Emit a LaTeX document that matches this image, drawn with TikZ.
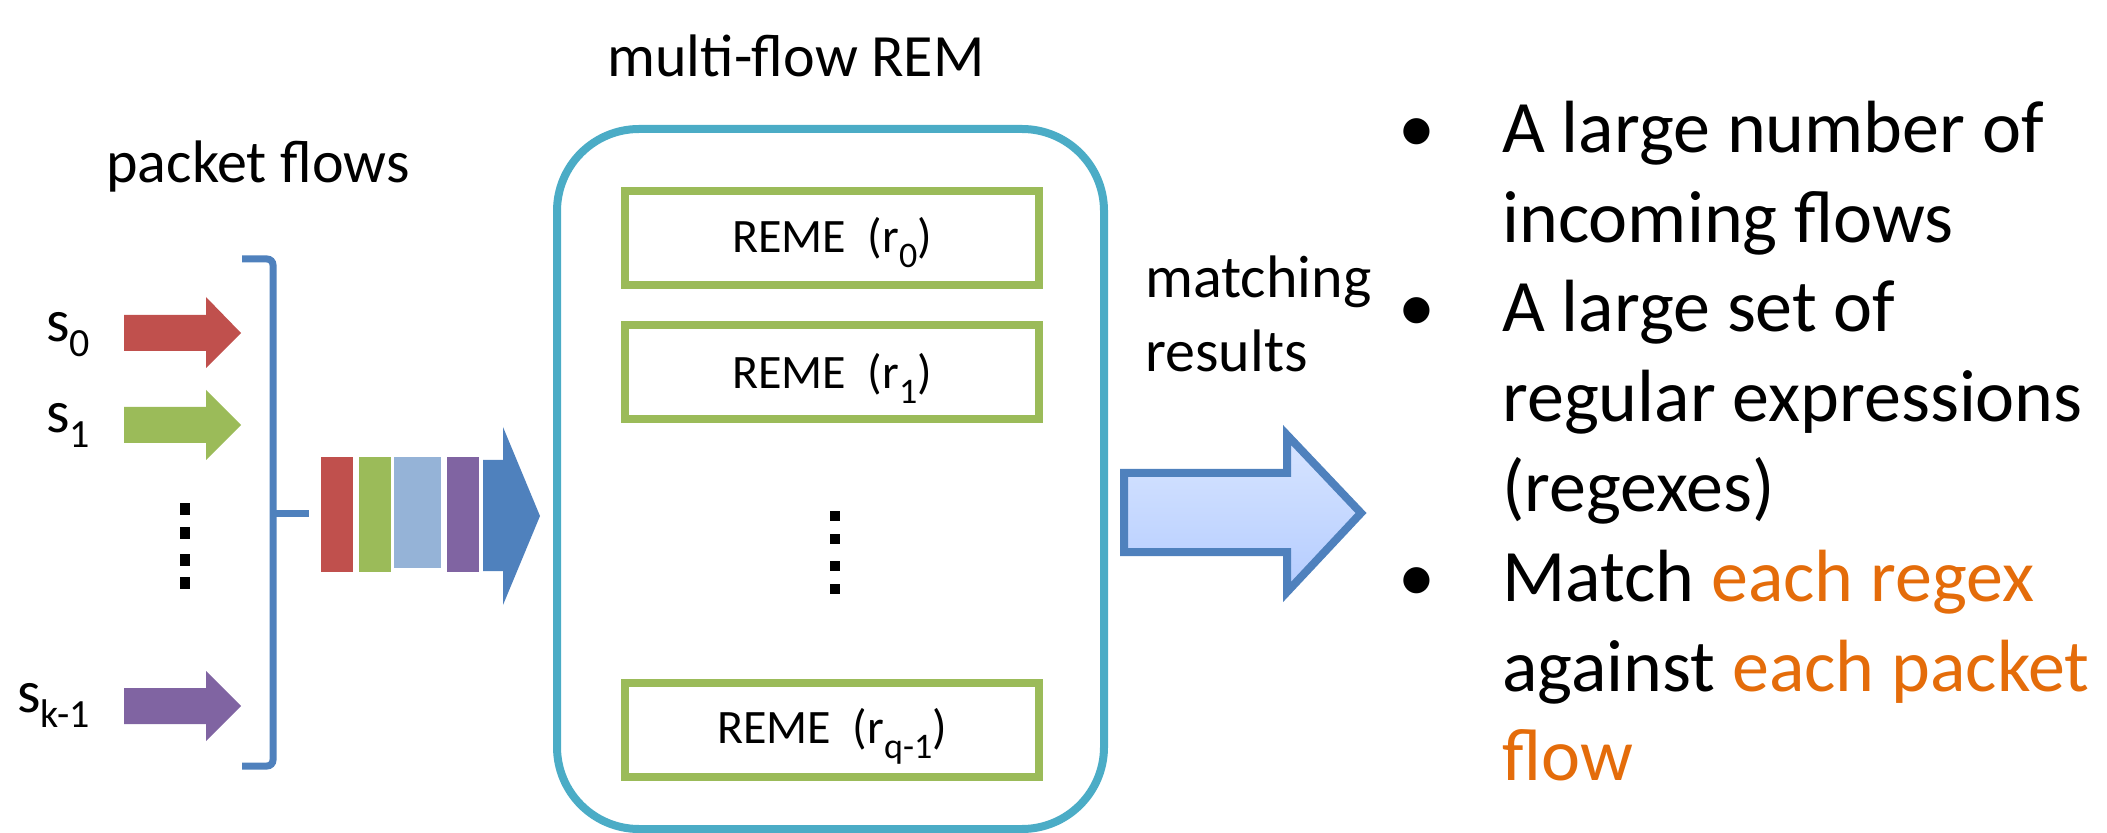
\documentclass[tikz,border=0pt]{standalone}
\usepackage{fontspec}
\setmainfont{Carlito}
\definecolor{fred}{HTML}{C0504D}
\definecolor{fgreen}{HTML}{9BBB59}
\definecolor{flblue}{HTML}{95B3D7}
\definecolor{fpurple}{HTML}{8064A2}
\definecolor{fblue}{HTML}{4F81BD}
\definecolor{faqua}{HTML}{4BACC6}
\definecolor{forange}{HTML}{E46C0A}
\definecolor{ftop}{HTML}{D8E5FF}
\definecolor{fbot}{HTML}{B4CCFF}
\newcommand{\lblfont}{\fontsize{30}{37}\selectfont}
\newcommand{\remefont}{\fontsize{24}{29}\selectfont}
\newcommand{\bulfont}{\fontsize{37}{44.85}\selectfont}
\newcommand{\ssub}[1]{\raisebox{-7.5pt}{\fontsize{20}{20}\selectfont #1}}
\newcommand{\rsub}[1]{\raisebox{-7.5pt}{\fontsize{18}{18}\selectfont #1}}
\begin{document}
\begin{tikzpicture}[x=0.5pt,y=-0.5pt,
  lbl/.style={font=\lblfont, inner sep=0pt, anchor=base west},
  remebox/.style={draw=fgreen, line width=4pt, minimum width=207pt, minimum height=47pt, inner sep=0pt},
  remetext/.style={font=\remefont, inner sep=0pt, anchor=base},
  bultext/.style={font=\bulfont, inner sep=0pt, anchor=base west, align=left},
  bulglyph/.style={font=\bulfont, inner sep=0pt, anchor=base},
  brace/.style={draw=fblue, line width=3.5pt},
  remframe/.style={draw=faqua, line width=4pt, rounded corners=41pt, minimum width=273.5pt, minimum height=350pt, inner sep=0pt},
  dotmark/.style={fill=black}
]
\useasboundingbox (0,0) rectangle (2107,833);

% labels
\node[lbl] (pf) at (106,183) {packet flows};
\node[lbl] (mf) at (607,77) {multi-flow REM};
\node[lbl] (s0) at (46,342) {s\ssub{0}};
\node[lbl] (s1) at (46,433) {s\ssub{1}};
\node[lbl] (sk) at (17,712) {s\ssub{k-1}};

% flow arrows
\fill[fred] (124,315) -- (206,315) -- (206,297) -- (241,333) -- (206,368) -- (206,351) -- (124,351) -- cycle;
\fill[fgreen] (124,407) -- (206,407) -- (206,390) -- (241,425) -- (206,460) -- (206,443) -- (124,443) -- cycle;
\fill[fpurple] (124,688) -- (206,688) -- (206,671) -- (241,706) -- (206,741) -- (206,724) -- (124,724) -- cycle;

% left dots
\foreach \yy in {509,533,560,583} \fill[dotmark] (180,\yy-6) rectangle (190,\yy+6);

% bracket
\draw[brace, rounded corners=3pt] (242,259) -- (273,259) -- (273,766) -- (242,766);
\draw[brace] (273,513) -- (309,513);

% packet blocks
\fill[fred] (321,457) rectangle (353,572);
\fill[fgreen] (359,457) rectangle (391,572);
\fill[flblue] (394,457) rectangle (441,568);
\fill[fpurple] (447,457) rectangle (479,572);
\fill[fblue] (483,460) -- (503,460) -- (503,427) -- (540,516) -- (503,605) -- (503,571) -- (483,571) -- cycle;

% REM frame
\node[remframe] (rem) at (830.5,479) {};
\node[remebox] (b0) at (832,238) {};
\node[remebox] (b1) at (832,372) {};
\node[remebox] (bq) at (832,729.5) {};
\node[remetext] (t0) at ([yshift=-7.5pt]b0.center) {REME\ \ (r\rsub{0})};
\node[remetext] (t1) at ([yshift=-8.5pt]b1.center) {REME\ \ (r\rsub{1})};
\node[remetext] (tq) at ([yshift=-7pt]bq.center) {REME\ \ (r\rsub{q-1})};
\foreach \yy in {516,539,566,589} \fill[dotmark] (830,\yy-5) rectangle (840,\yy+5);

% matching results
\node[lbl] (m1) at (1145,298) {matching};
\node[lbl] (m2) at (1145,372) {results};
\draw[draw=fblue, line width=4pt, top color=ftop, bottom color=fbot, miter limit=10]
  (1124,473) -- (1287,473) -- (1287,435) -- (1361,513) -- (1287,592) -- (1287,552) -- (1124,552) -- cycle;

% bullets (node base = baseline of last line)
\node[bulglyph] (g1) at (1417,153) {\textbullet};
\node[bulglyph] (g2) at (1417,332) {\textbullet};
\node[bulglyph] (g3) at (1417,601.5) {\textbullet};
\node[bultext] (i1) at (1502,242.7) {A large number of\\incoming flows};
\node[bultext] (i2) at (1502,511.4) {A large set of\\regular expressions\\(regexes)};
\node[bultext] (i3) at (1502,780.9) {Match \textcolor{forange}{each regex}\\against \textcolor{forange}{each packet}\\\textcolor{forange}{flow}};
\end{tikzpicture}
\end{document}
